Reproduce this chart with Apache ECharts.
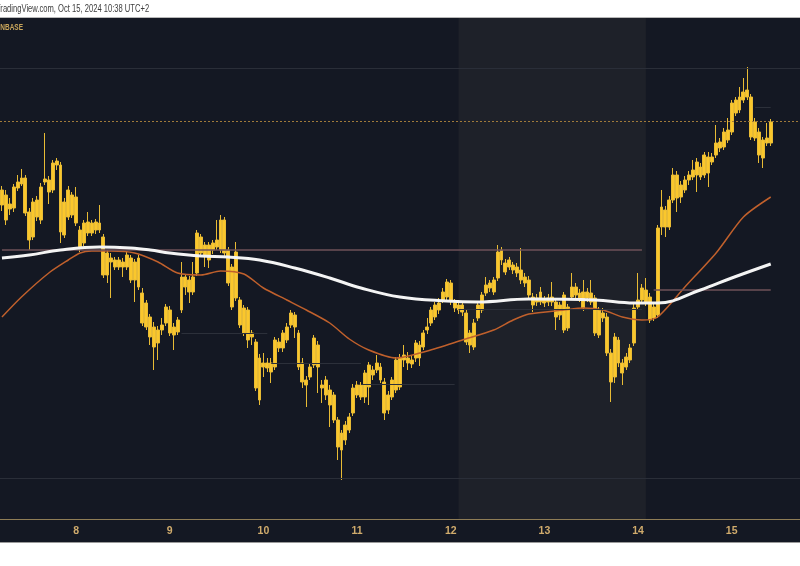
<!DOCTYPE html>
<html><head><meta charset="utf-8">
<script src="https://cdn.jsdelivr.net/npm/echarts@6/dist/echarts.min.js"></script>
<style>html,body{margin:0;padding:0;background:#fff}#c{width:800px;height:566px}</style>
</head><body><div id="c"></div>
<script>
// hourly slots, Oct 7 05:00 .. Oct 15 17:00 (last candles end at Oct 15 10:00)
const startDay = 7, startHour = 5, slotCount = 205;
const dayLabels = ['8','9','10','11','12','13','14','15'];
// [open, close, low, high]
const candles = [
[329,314,308,333],[324,299,294,329],[310,315,304,321],[311,332,307,335],[331,337,328,344],[335,341,333,350],[341,306,303,344],[307,279,269,311],[282,317,279,321],[302,319,298,323],
[299,332,295,336],[337,340,334,386],[339,327,315,343],[329,356,326,359],[354,358,349,361],[354,287,276,357],[284,317,281,321],[302,329,299,333],[324,304,301,327],[322,296,293,332],
[289,271,267,293],[276,296,273,299],[286,297,283,307],[296,286,283,299],[289,297,285,300],[296,289,286,314],[282,244,241,285],[244,266,236,269],[261,257,221,266],[252,259,249,262],
[259,252,249,262],[257,252,242,261],[252,264,249,267],[261,239,236,264],[239,257,217,260],[261,232,229,264],[226,196,193,231],[216,192,189,219],[202,182,174,205],[192,172,149,197],
[176,189,159,193],[189,194,184,201],[196,212,193,215],[209,186,183,213],[192,184,169,196],[187,199,184,202],[209,242,206,257],[242,232,224,245],[239,227,216,243],[227,242,224,257],
[246,286,243,289],[282,266,263,285],[274,264,252,277],[274,259,251,277],[269,276,265,279],[272,279,269,299],[269,299,266,304],[299,266,263,302],[269,236,233,272],[252,212,209,255],
[221,267,218,277],[219,194,191,222],[211,186,183,214],[209,179,171,212],[186,182,174,189],[177,131,128,180],[161,119,114,165],[152,156,142,166],[156,151,147,161],[156,147,136,161],
[152,179,149,182],[177,171,167,181],[171,186,167,189],[179,192,176,196],[194,206,191,209],[204,192,181,207],[186,152,149,189],[156,137,131,161],[134,139,112,143],[142,152,139,156],
[154,181,151,184],[174,152,126,178],[134,131,116,139],[139,124,119,143],[129,114,92,134],[124,99,96,127],[99,72,59,102],[86,69,39,89],[79,94,74,98],[89,102,86,106],
[106,131,103,135],[124,134,121,138],[134,122,119,137],[122,146,116,149],[132,154,114,157],[149,144,139,153],[149,156,146,164],[152,139,136,156],[137,106,99,141],[109,124,105,128],
[122,139,119,142],[129,159,126,162],[132,161,129,165],[159,164,152,174],[161,156,149,167],[159,155,151,163],[161,176,157,179],[174,161,153,178],[172,186,169,189],[189,192,185,201],
[196,209,193,212],[202,214,199,217],[216,209,205,221],[219,227,216,231],[222,237,219,240],[236,219,214,239],[216,211,207,220],[214,209,205,219],[214,207,203,218],[206,177,174,209],
[186,174,166,189],[172,196,169,200],[201,214,198,217],[209,224,206,227],[226,234,223,242],[231,236,227,239],[239,227,224,242],[241,267,238,274],[269,259,254,272],[256,247,244,260],
[252,259,249,262],[254,249,245,257],[252,246,242,256],[249,239,235,271],[242,236,232,246],[239,224,221,243],[222,214,207,226],[217,221,213,225],[217,227,214,232],[219,216,212,223],
[217,221,213,225],[222,217,213,237],[217,202,189,221],[204,214,199,217],[224,189,186,227],[191,212,188,215],[222,232,219,246],[232,224,220,236],[226,221,217,230],[227,211,208,239],
[221,227,217,231],[226,217,214,239],[221,186,183,224],[184,209,181,212],[201,206,197,211],[202,166,163,206],[166,137,117,170],[142,182,136,186],[179,156,152,182],[156,146,134,160],
[152,162,149,166],[159,171,156,175],[176,211,173,215],[212,219,209,246],[219,231,216,235],[229,216,213,241],[222,199,196,226],[212,201,198,216],[204,291,201,294],[292,312,284,329],
[309,292,282,313],[292,319,289,323],[319,344,316,351],[344,321,307,348],[334,322,316,338],[329,339,326,343],[339,344,334,348],[342,349,339,359],[344,357,327,361],[352,342,339,356],
[344,364,341,367],[362,346,332,367],[357,362,354,366],[364,376,361,394],[371,377,367,381],[372,387,369,391],[389,379,376,401],[387,416,384,419],[406,419,403,422],[409,422,406,432],
[419,427,416,441],[422,429,419,452],[422,382,379,425],[397,381,378,401],[387,364,356,391],[379,361,351,382],[376,381,373,396],[376,397,373,400]
];
// moving averages, read at [slot index, value]
const maWhite = [[0,261],[7,264],[15,269],[25,272],[33,271],[38,269],[43,266],[51,263],[58,262],[66,259],[75,251],[84,241],[92,231],[102,222],[114,218],[122,217],[135,220],[152,219],[162,216],[168,216],[179,229],[187,241],[197,255]];
const maOrange = [[0,202],[5,222],[12,246],[17,259],[20,266],[23,268],[28,268],[34,266],[40,257],[45,246],[51,244],[56,248],[62,245],[67,231],[73,219],[78,209],[84,196],[89,180],[94,169],[101,161],[109,168],[118,179],[126,189],[131,199],[135,205],[144,209],[149,211],[154,209],[159,202],[164,199],[168,202],[175,232],[183,266],[190,302],[197,322]];
// horizontal levels
const fullLevels = [451, 41];
const dottedLevel = 398;
const roseSegments = [[0,164,269],[167,197,229]];
const faintSegments = [[46,68,186],[69,92,156],[92,116,135],[117,164,210],[193,197,412]];
const weekend = [117, 165];

const categories = [];
for (let k = 0; k < slotCount; k++) {
  const t = startHour + k;
  const d = startDay + Math.floor(t / 24);
  const h = t % 24;
  categories.push(d + ' ' + String(h).padStart(2, '0') + ':00');
}

const chart = echarts.init(document.getElementById('c'), null, {renderer: 'canvas'});
const segLines = (segs, color, width, type) => segs.map(s => [
  {coord: [s[0], s[2]], lineStyle: {color, width, type}},
  {coord: [s[1], s[2]]}
]);
chart.setOption({
  backgroundColor: '#ffffff',
  animation: false,
  graphic: [
    {type: 'rect', z: -10, silent: true, shape: {x: 0, y: 18, width: 800, height: 524}, style: {fill: '#141823'}},
    {type: 'line', z: 10, silent: true, shape: {x1: 0, y1: 17.5, x2: 800, y2: 17.5}, style: {stroke: '#b8b8b8', lineWidth: 1}},
    {type: 'line', z: 10, silent: true, shape: {x1: 0, y1: 542.5, x2: 800, y2: 542.5}, style: {stroke: '#9a9a9a', lineWidth: 1}},
    {type: 'text', z: 10, silent: true, x: -4, y: 4, scaleX: 0.76, style: {text: 'TradingView.com, Oct 15, 2024 10:38 UTC+2', fill: '#3c3c3c', font: '10px "Liberation Sans", sans-serif'}},
    {type: 'text', z: 10, silent: true, x: 23, y: 23, scaleX: 0.72, style: {text: 'COINBASE', fill: '#c9a65c', align: 'right', font: 'bold 9px "Liberation Sans", sans-serif'}}
  ],
  grid: {left: 0, right: 0, top: 18, bottom: 47, show: false},
  xAxis: {
    type: 'category', data: categories, boundaryGap: true,
    axisLine: {lineStyle: {color: '#8f7d56', width: 1}},
    axisTick: {show: false},
    splitLine: {show: false},
    axisLabel: {
      interval: (idx, val) => val.endsWith(' 00:00'),
      formatter: val => val.split(' ')[0],
      color: '#d0ab6c', fontWeight: 'bold', fontSize: 10.5, margin: 7,
      fontFamily: '"Liberation Sans", sans-serif'
    }
  },
  yAxis: {type: 'value', min: 0, max: 501, show: false, splitLine: {show: false}},
  series: [
    {
      type: 'line', data: [], z: 1, silent: true,
      markArea: {silent: true, itemStyle: {color: '#1e2129'},
        data: [[{xAxis: weekend[0]}, {xAxis: weekend[1]}]]},
      markLine: {silent: true, symbol: 'none', label: {show: false},
        data: [
          ...fullLevels.map(v => ({yAxis: v, lineStyle: {color: '#2a2e38', width: 1, type: 'solid'}})),
          {yAxis: dottedLevel, lineStyle: {color: '#a07a3a', width: 1, type: [2, 2]}},
          ...segLines(roseSegments, '#6e5058', 1.5, 'solid'),
          ...segLines(faintSegments, '#2c303a', 1, 'solid')
        ]}
    },
    {
      type: 'candlestick', data: candles, z: 3, barWidth: 3.4,
      itemStyle: {color: '#fac72c', color0: '#fac72c', borderColor: '#e8bb35', borderColor0: '#e8bb35', borderWidth: 1}
    },
    {type: 'line', data: maOrange, smooth: 0.25, showSymbol: false, z: 4, lineStyle: {color: '#c0602c', width: 1.5}},
    {type: 'line', data: maWhite, smooth: 0.4, showSymbol: false, z: 5, lineStyle: {color: '#f4f4f4', width: 3}}
  ]
});
</script>
</body></html>
